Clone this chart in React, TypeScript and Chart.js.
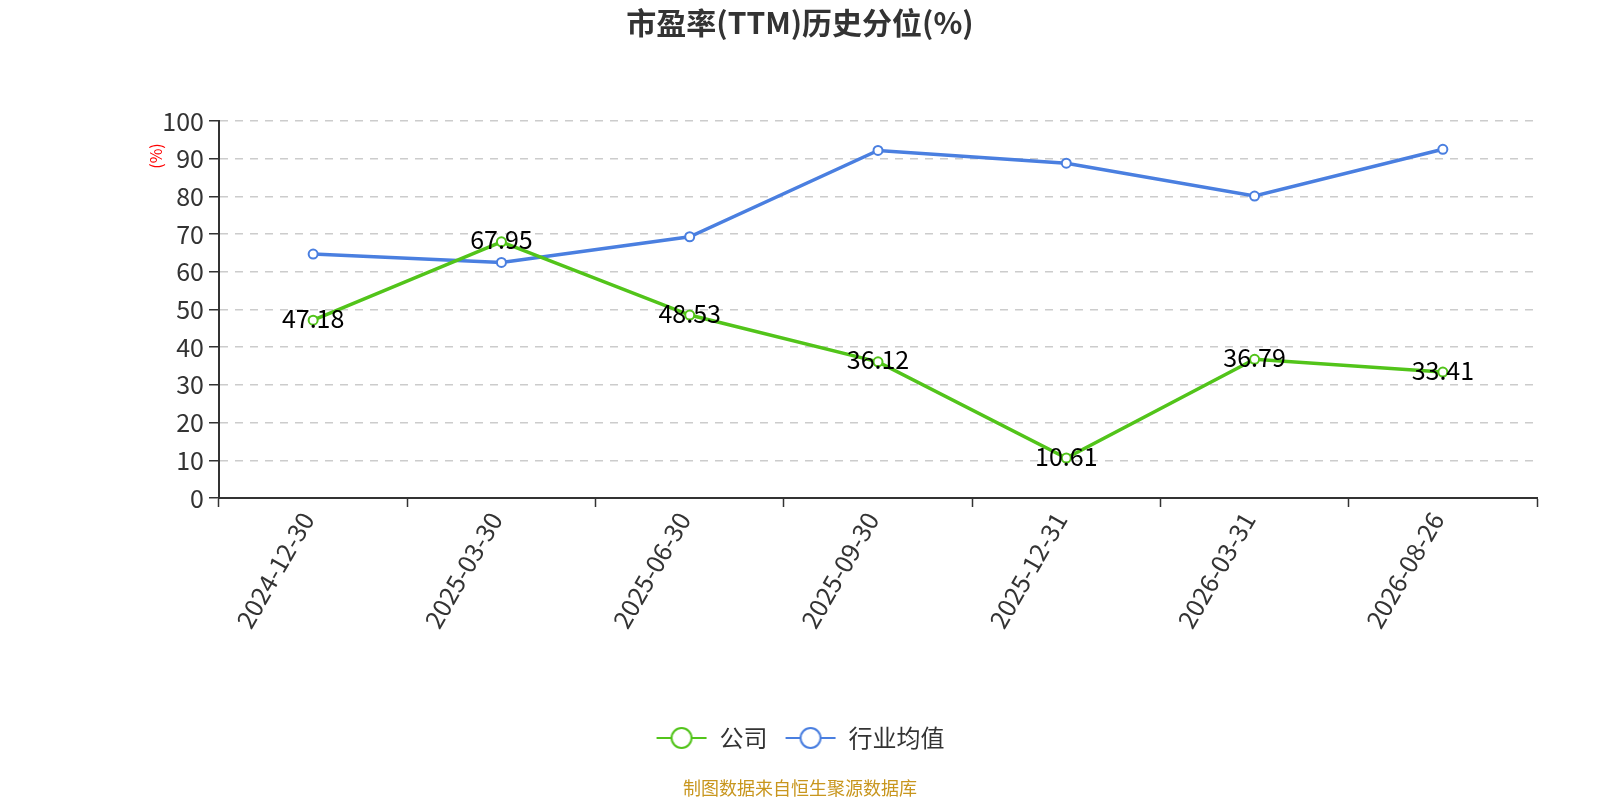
import React, { useRef, useEffect } from "react";
import { Chart, registerables } from "chart.js";

Chart.register(...registerables);

const dates = [
  "2024-12-30",
  "2025-03-30",
  "2025-06-30",
  "2025-09-30",
  "2025-12-31",
  "2026-03-31",
  "2026-08-26",
];
const companyValues = [47.18, 67.95, 48.53, 36.12, 10.61, 36.79, 33.41];
const industryValues = [64.7, 62.5, 69.3, 92.2, 88.8, 80.1, 92.5];
const yTicks = [0, 10, 20, 30, 40, 50, 60, 70, 80, 90, 100];

const GREEN = "#52c41a";
const BLUE = "#4a7fe0";
const FONT = "'Microsoft YaHei', 'Noto Sans CJK SC', 'Noto Sans', sans-serif";

// line + hollow circle, like the legend icons in the picture
const legendIcon = (color: string) => {
  const c = document.createElement("canvas");
  c.width = 52;
  c.height = 26;
  const ctx = c.getContext("2d")!;
  ctx.strokeStyle = color;
  ctx.lineWidth = 2;
  ctx.beginPath();
  ctx.moveTo(1, 13);
  ctx.lineTo(51, 13);
  ctx.stroke();
  ctx.fillStyle = "#fff";
  ctx.beginPath();
  ctx.arc(26, 13, 10, 0, Math.PI * 2);
  ctx.fill();
  ctx.stroke();
  return c;
};

const labelsPlugin = {
  id: "pointLabels",
  afterDatasetsDraw(chart: any) {
    const ctx = chart.ctx;
    const meta = chart.getDatasetMeta(0);
    ctx.save();
    ctx.font = `25px ${FONT}`;
    ctx.fillStyle = "#000";
    ctx.textAlign = "center";
    ctx.textBaseline = "middle";
    meta.data.forEach((pt: any, i: number) => {
      ctx.fillText(companyValues[i].toFixed(2), pt.x, pt.y - 2);
    });
    ctx.restore();
  },
};

const extrasPlugin = {
  id: "extras",
  afterDraw(chart: any) {
    const ctx = chart.ctx;
    const area = chart.chartArea;
    ctx.save();
    // y axis name
    ctx.font = `16px ${FONT}`;
    ctx.fillStyle = "red";
    ctx.textAlign = "center";
    ctx.textBaseline = "middle";
    ctx.translate(area.left - 63, area.top + 35);
    ctx.rotate(-Math.PI / 2);
    ctx.fillText("(%)", 0, 0);
    ctx.restore();
    // source note
    ctx.save();
    ctx.font = `18px ${FONT}`;
    ctx.fillStyle = "#c8961e";
    ctx.textAlign = "center";
    ctx.textBaseline = "middle";
    ctx.fillText("制图数据来自恒生聚源数据库", chart.width / 2, 788);
    ctx.restore();
  },
};

export default function App() {
  const chartRef = useRef<HTMLCanvasElement>(null);

  useEffect(() => {
    if (!chartRef.current) return;
    const chart = new Chart(chartRef.current, {
      type: "line",
      data: {
        labels: dates,
        datasets: [
          {
            label: "公司",
            data: companyValues,
            borderColor: GREEN,
            backgroundColor: "#fff",
            borderWidth: 3.5,
            pointRadius: 4.5,
            pointBorderWidth: 2,
            pointBorderColor: GREEN,
            pointBackgroundColor: "#fff",
            tension: 0,
          },
          {
            label: "行业均值",
            data: industryValues,
            borderColor: BLUE,
            backgroundColor: "#fff",
            borderWidth: 3.5,
            pointRadius: 4.5,
            pointBorderWidth: 2,
            pointBorderColor: BLUE,
            pointBackgroundColor: "#fff",
            tension: 0,
          },
        ],
      },
      options: {
        animation: false,
        responsive: false,
        layout: { padding: { left: 0, right: 0, top: 0, bottom: 40 } },
        plugins: {
          title: {
            display: true,
            text: "市盈率(TTM)历史分位(%)",
            color: "#333",
            font: { size: 30, weight: "bold", family: FONT },
            padding: { top: 5, bottom: 80 },
          },
          legend: {
            position: "bottom",
            labels: {
              usePointStyle: true,
              pointStyleWidth: 52,
              color: "#333",
              font: { size: 24, family: FONT },
              padding: 17,
              generateLabels: (ch: any) =>
                ch.data.datasets.map((ds: any, i: number) => ({
                  text: ds.label,
                  pointStyle: legendIcon(ds.borderColor),
                  fontColor: "#333",
                  datasetIndex: i,
                  hidden: false,
                  lineWidth: 0,
                })),
            },
          },
          tooltip: { enabled: false },
        },
        scales: {
          x: {
            offset: true,
            border: { display: true, color: "#333", width: 2 },
            grid: {
              display: true,
              offset: true,
              drawOnChartArea: false,
              drawTicks: true,
              tickLength: 9,
              tickColor: "#333",
              tickWidth: 1.5,
            },
            ticks: {
              color: "#333",
              font: { size: 25, family: FONT },
              minRotation: 60,
              maxRotation: 60,
              padding: 0,
              labelOffset: -6,
            },
            afterFit: (s: any) => {
              s.height = 211;
            },
          },
          y: {
            min: 0,
            max: 100,
            afterBuildTicks: (s: any) => {
              s.ticks = yTicks.map((v) => ({ value: v }));
            },
            border: { display: true, color: "#333", width: 2, dash: [8, 7] },
            grid: {
              color: "#ccc",
              lineWidth: 1.5,
              tickColor: "#333",
              tickLength: 10,
              tickWidth: 1.5,
              tickBorderDash: [],
            },
            ticks: {
              color: "#333",
              font: { size: 25, family: FONT },
              padding: 5,
            },
            afterFit: (s: any) => {
              s.width = 219;
            },
          },
          // empty right-hand strip so the title and legend stay centred on the page
          yRight: {
            position: "right",
            display: true,
            grid: { display: false },
            border: { display: false },
            ticks: { display: false },
            afterFit: (s: any) => {
              s.width = 63;
            },
          },
        },
      },
      plugins: [labelsPlugin, extrasPlugin],
    } as any);
    return () => chart.destroy();
  }, []);

  return (
    <div style={{ position: "fixed", left: 0, top: 0, width: 1600, height: 800, background: "#fff" }}>
      <canvas ref={chartRef} width={1600} height={800} style={{ width: 1600, height: 800 }} />
    </div>
  );
}
